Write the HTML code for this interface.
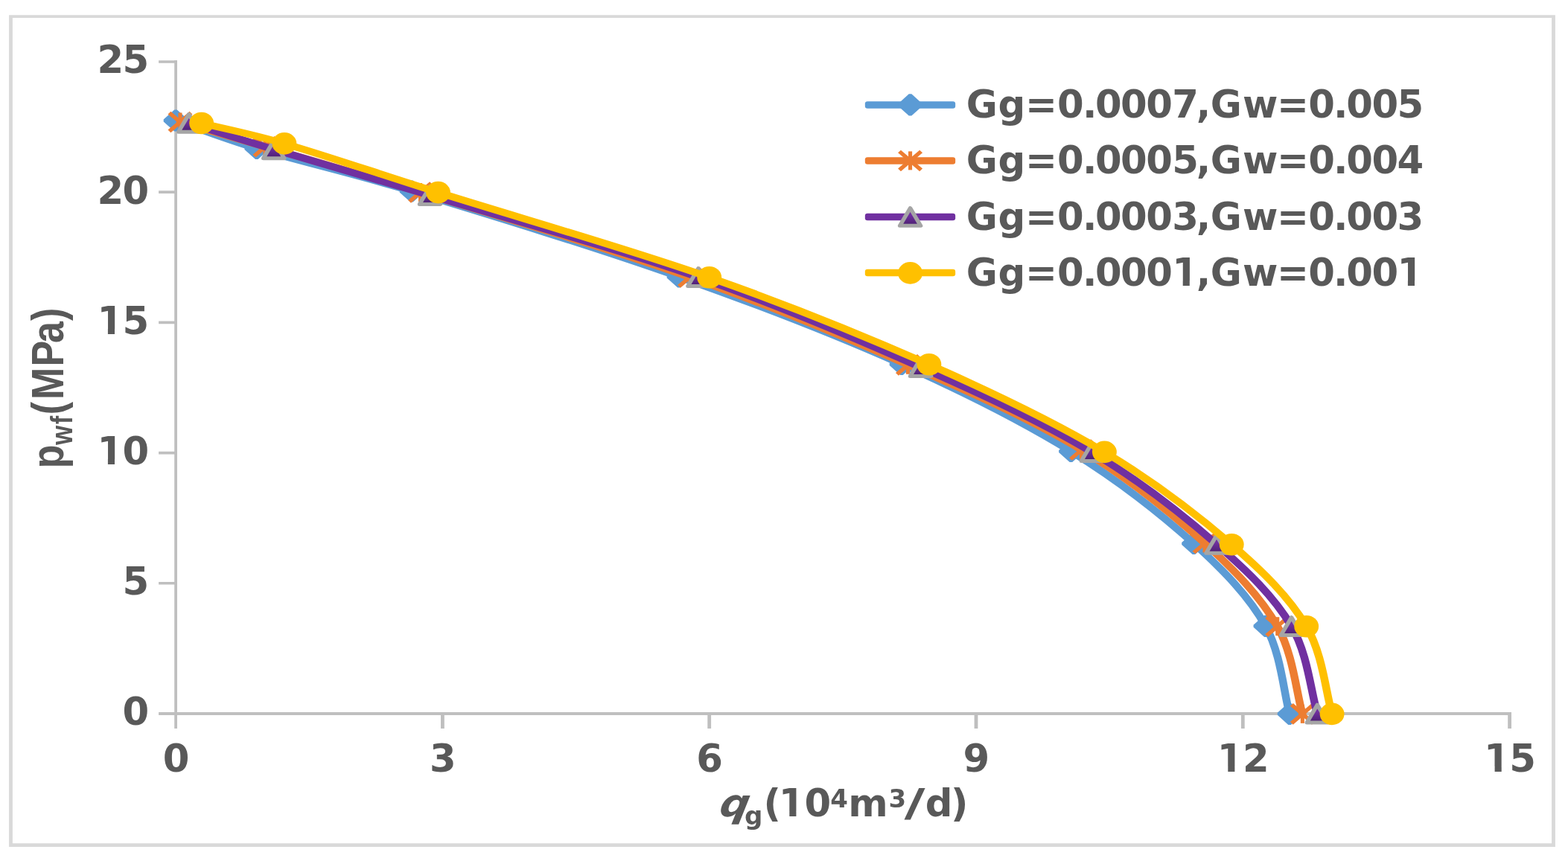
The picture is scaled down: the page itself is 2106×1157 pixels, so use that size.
<!DOCTYPE html>
<html lang="en">
<head>
<meta charset="utf-8">
<title>IPR curves</title>
<style>
html,body{margin:0;padding:0;background:#fff;}
body{width:2106px;height:1157px;overflow:hidden;}
svg{display:block;}
text{fill:#595959;font-weight:bold;font-family:"DejaVu Sans","Liberation Sans",sans-serif;}
.a{font-family:"Liberation Sans","DejaVu Sans",sans-serif;}
.i{font-style:italic;}
</style>
</head>
<body>
<svg width="2106" height="1157" viewBox="0 0 2106 1157">
<defs>
<linearGradient id="pg" gradientUnits="objectBoundingBox" x1="0" y1="0" x2="0" y2="1">
<stop offset="0" stop-color="#7030A0"/><stop offset="0.4" stop-color="#7030A0"/><stop offset="1" stop-color="#4A1F6E"/>
</linearGradient>
</defs>
<rect x="0" y="0" width="2106" height="1157" fill="#ffffff"/>
<path fill-rule="evenodd" fill="#D9D9D9" d="M12.1 20.3H2088.9V1137.9H12.1ZM16.9 23.9H2084.1V1133.2H16.9Z"/>
<path d="M234.2 81.1H238.0V978.9H234.2ZM213.1 956.9H2030.0V960.9H213.1ZM213.1 781.9H236.1V785.6H213.1ZM592.0 958.9H596.8V978.9H592.0ZM213.1 606.7H236.1V610.4H213.1ZM950.3 958.9H955.1V978.9H950.3ZM213.1 431.5H236.1V435.2H213.1ZM1308.6 958.9H1313.4V978.9H1308.6ZM213.1 256.3H236.1V260.0H213.1ZM1666.9 958.9H1671.7V978.9H1666.9ZM213.1 81.2H236.1V84.8H213.1ZM2025.2 958.9H2030.0V978.9H2025.2Z" fill="#BFBFBF"/>
<text class="t" font-size="51.3" y="974.3" x="164.6">0</text>
<text class="t" font-size="51.3" y="799.1" x="164.6">5</text>
<clipPath id="k1"><path clip-rule="evenodd" d="M0 0H2106V1157H0ZM135.5 617.0H144.9V624.9H135.5ZM154.0 617.0H163.2V624.9H154.0Z"/></clipPath><g clip-path="url(#k1)"><text class="t" font-size="51.3" y="623.9" x="130.4 164.6">10</text></g>
<clipPath id="k2"><path clip-rule="evenodd" d="M0 0H2106V1157H0ZM135.5 441.8H144.9V449.8H135.5ZM154.0 441.8H163.2V449.8H154.0Z"/></clipPath><g clip-path="url(#k2)"><text class="t" font-size="51.3" y="448.8" x="130.4 164.6">15</text></g>
<text class="t" font-size="51.3" y="273.6" x="130.4 164.6">20</text>
<text class="t" font-size="51.3" y="98.4" x="130.4 164.6">25</text>
<text class="t" font-size="51.3" y="1037.0" x="218.7">0</text>
<text class="t" font-size="51.3" y="1037.0" x="577.0">3</text>
<text class="t" font-size="51.3" y="1037.0" x="935.3">6</text>
<text class="t" font-size="51.3" y="1037.0" x="1293.6">9</text>
<clipPath id="k3"><path clip-rule="evenodd" d="M0 0H2106V1157H0ZM1639.9 1030.1H1649.3V1038.0H1639.9ZM1658.4 1030.1H1667.6V1038.0H1658.4Z"/></clipPath><g clip-path="url(#k3)"><text class="t" font-size="51.3" y="1037.0" x="1634.8 1669.0">12</text></g>
<clipPath id="k4"><path clip-rule="evenodd" d="M0 0H2106V1157H0ZM1998.2 1030.1H2007.6V1038.0H1998.2ZM2016.7 1030.1H2025.9V1038.0H2016.7Z"/></clipPath><g clip-path="url(#k4)"><text class="t" font-size="51.3" y="1037.0" x="1993.1 2027.3">15</text></g>
<g transform="scale(1.11 1)">
<path d="M212.6 162.0C237.1 171.4 270.2 186.1 310.6 199.5C365.5 217.7 424.6 232.2 498.2 257.0C595.0 289.7 719.0 331.7 821.6 372.0C916.6 409.3 1007.6 448.2 1091.0 489.5C1165.8 526.5 1233.9 564.3 1295.9 606.5C1352.0 644.8 1402.1 688.1 1444.6 730.5C1480.8 766.6 1511.1 801.3 1531.4 841.3C1550.1 878.4 1553.1 929.8 1560.4 959.3" fill="none" stroke="#5B9BD5" stroke-width="9.5" stroke-linecap="round" stroke-linejoin="round"/>
<path d="M211.0 147.4L214.2 147.4L227.3 160.5L227.3 163.5L214.2 176.6L211.0 176.6L197.9 163.5L197.9 160.5Z" fill="#5B9BD5"/>
<path d="M309.0 184.9L312.2 184.9L325.3 198.0L325.3 201.0L312.2 214.1L309.0 214.1L295.9 201.0L295.9 198.0Z" fill="#5B9BD5"/>
<path d="M496.6 242.4L499.8 242.4L512.9 255.5L512.9 258.5L499.8 271.6L496.6 271.6L483.5 258.5L483.5 255.5Z" fill="#5B9BD5"/>
<path d="M820.0 357.4L823.2 357.4L836.3 370.5L836.3 373.5L823.2 386.6L820.0 386.6L806.9 373.5L806.9 370.5Z" fill="#5B9BD5"/>
<path d="M1089.4 474.9L1092.6 474.9L1105.7 488.0L1105.7 491.0L1092.6 504.1L1089.4 504.1L1076.3 491.0L1076.3 488.0Z" fill="#5B9BD5"/>
<path d="M1294.3 591.9L1297.5 591.9L1310.6 605.0L1310.6 608.0L1297.5 621.1L1294.3 621.1L1281.2 608.0L1281.2 605.0Z" fill="#5B9BD5"/>
<path d="M1443.0 715.9L1446.2 715.9L1459.3 729.0L1459.3 732.0L1446.2 745.1L1443.0 745.1L1429.9 732.0L1429.9 729.0Z" fill="#5B9BD5"/>
<path d="M1529.8 826.7L1533.0 826.7L1546.1 839.8L1546.1 842.8L1533.0 855.9L1529.8 855.9L1516.7 842.8L1516.7 839.8Z" fill="#5B9BD5"/>
<path d="M1558.8 944.7L1562.0 944.7L1575.1 957.8L1575.1 960.8L1562.0 973.9L1558.8 973.9L1545.7 960.8L1545.7 957.8Z" fill="#5B9BD5"/>
</g>
<g transform="scale(1.11 1)">
<path d="M218.0 164.0C243.7 172.3 279.4 183.8 320.7 197.2C376.2 215.3 434.6 233.3 508.6 258.5C605.9 291.7 731.9 332.1 834.7 372.5C928.7 409.4 1015.9 449.8 1098.6 490.3C1173.9 527.1 1245.5 562.4 1308.6 604.5C1365.5 642.5 1414.9 687.3 1457.7 730.0C1494.2 766.5 1524.9 801.5 1545.7 841.7C1564.8 878.8 1568.4 930.0 1576.0 959.4" fill="none" stroke="#ED7D31" stroke-width="9.5" stroke-linecap="round" stroke-linejoin="round"/>
<path d="M204.9 151.6L231.1 176.4M204.9 176.4L231.1 151.6" fill="none" stroke="#ED7D31" stroke-width="5.1"/><path d="M218.0 151.5L218.0 176.5" fill="none" stroke="#ED7D31" stroke-width="4.6"/>
<path d="M307.6 184.8L333.8 209.6M307.6 209.6L333.8 184.8" fill="none" stroke="#ED7D31" stroke-width="5.1"/><path d="M320.7 184.7L320.7 209.7" fill="none" stroke="#ED7D31" stroke-width="4.6"/>
<path d="M495.5 246.1L521.7 270.9M495.5 270.9L521.7 246.1" fill="none" stroke="#ED7D31" stroke-width="5.1"/><path d="M508.6 246.0L508.6 271.0" fill="none" stroke="#ED7D31" stroke-width="4.6"/>
<path d="M821.6 360.1L847.8 384.9M821.6 384.9L847.8 360.1" fill="none" stroke="#ED7D31" stroke-width="5.1"/><path d="M834.7 360.0L834.7 385.0" fill="none" stroke="#ED7D31" stroke-width="4.6"/>
<path d="M1085.5 477.9L1111.7 502.8M1085.5 502.8L1111.7 477.9" fill="none" stroke="#ED7D31" stroke-width="5.1"/><path d="M1098.6 477.8L1098.6 502.8" fill="none" stroke="#ED7D31" stroke-width="4.6"/>
<path d="M1295.5 592.0L1321.7 617.0M1295.5 617.0L1321.7 592.0" fill="none" stroke="#ED7D31" stroke-width="5.1"/><path d="M1308.6 592.0L1308.6 617.0" fill="none" stroke="#ED7D31" stroke-width="4.6"/>
<path d="M1444.6 717.5L1470.8 742.5M1444.6 742.5L1470.8 717.5" fill="none" stroke="#ED7D31" stroke-width="5.1"/><path d="M1457.7 717.5L1457.7 742.5" fill="none" stroke="#ED7D31" stroke-width="4.6"/>
<path d="M1532.6 829.2L1558.8 854.2M1532.6 854.2L1558.8 829.2" fill="none" stroke="#ED7D31" stroke-width="5.1"/><path d="M1545.7 829.2L1545.7 854.2" fill="none" stroke="#ED7D31" stroke-width="4.6"/>
<path d="M1562.9 946.9L1589.1 971.9M1562.9 971.9L1589.1 946.9" fill="none" stroke="#ED7D31" stroke-width="5.1"/><path d="M1576.0 946.9L1576.0 971.9" fill="none" stroke="#ED7D31" stroke-width="4.6"/>
</g>
<g transform="scale(1.11 1)">
<path d="M228.6 165.3C254.3 174.2 289.8 187.0 331.3 200.8C387.0 219.4 446.0 237.7 520.3 262.5C617.3 294.9 742.3 332.5 845.0 372.5C940.3 409.6 1030.2 452.2 1114.0 493.5C1189.0 530.5 1258.4 565.9 1321.1 607.5C1378.0 645.3 1428.6 689.2 1472.1 731.3C1509.3 767.3 1541.3 801.6 1562.7 841.5C1582.4 878.3 1586.1 929.6 1594.0 959.0" fill="none" stroke="#7030A0" stroke-width="9.5" stroke-linecap="round" stroke-linejoin="round"/>
<path d="M228.6 153.5L241.2 177.2L216.0 177.2Z" fill="url(#pg)" stroke="#A5A5A5" stroke-width="5" stroke-linejoin="round"/>
<path d="M331.3 189.0L343.9 212.7L318.7 212.7Z" fill="url(#pg)" stroke="#A5A5A5" stroke-width="5" stroke-linejoin="round"/>
<path d="M520.3 250.7L532.9 274.4L507.7 274.4Z" fill="url(#pg)" stroke="#A5A5A5" stroke-width="5" stroke-linejoin="round"/>
<path d="M845.0 360.7L857.6 384.4L832.4 384.4Z" fill="url(#pg)" stroke="#A5A5A5" stroke-width="5" stroke-linejoin="round"/>
<path d="M1114.0 481.7L1126.6 505.4L1101.4 505.4Z" fill="url(#pg)" stroke="#A5A5A5" stroke-width="5" stroke-linejoin="round"/>
<path d="M1321.1 595.7L1333.7 619.4L1308.5 619.4Z" fill="url(#pg)" stroke="#A5A5A5" stroke-width="5" stroke-linejoin="round"/>
<path d="M1472.1 719.5L1484.7 743.2L1459.5 743.2Z" fill="url(#pg)" stroke="#A5A5A5" stroke-width="5" stroke-linejoin="round"/>
<path d="M1562.7 829.7L1575.3 853.4L1550.1 853.4Z" fill="url(#pg)" stroke="#A5A5A5" stroke-width="5" stroke-linejoin="round"/>
<path d="M1594.0 947.2L1606.6 970.9L1581.4 970.9Z" fill="url(#pg)" stroke="#A5A5A5" stroke-width="5" stroke-linejoin="round"/>
</g>
<g transform="scale(1.11 1)">
<path d="M243.8 165.5C268.9 172.3 303.7 179.8 344.1 192.9C399.2 210.8 456.3 232.8 530.2 258.6C627.7 292.7 754.8 332.4 858.3 372.7C952.9 409.5 1040.9 448.9 1124.2 489.8C1200.4 527.2 1272.2 565.0 1336.4 607.4C1394.4 645.7 1446.1 689.4 1490.3 731.7C1527.8 767.7 1559.5 801.8 1580.8 841.7C1600.5 878.6 1604.1 930.0 1611.8 959.4" fill="none" stroke="#FFC000" stroke-width="9.5" stroke-linecap="round" stroke-linejoin="round"/>
<circle cx="243.8" cy="165.5" r="14.8" fill="#FFC000"/>
<circle cx="344.1" cy="192.9" r="14.8" fill="#FFC000"/>
<circle cx="530.2" cy="258.6" r="14.8" fill="#FFC000"/>
<circle cx="858.3" cy="372.7" r="14.8" fill="#FFC000"/>
<circle cx="1124.2" cy="489.8" r="14.8" fill="#FFC000"/>
<circle cx="1336.4" cy="607.4" r="14.8" fill="#FFC000"/>
<circle cx="1490.3" cy="731.7" r="14.8" fill="#FFC000"/>
<circle cx="1580.8" cy="841.7" r="14.8" fill="#FFC000"/>
<circle cx="1611.8" cy="959.4" r="14.8" fill="#FFC000"/>
</g>
<g transform="scale(1.11 1)">
<rect x="1046.7" y="136.15" width="109.3" height="9.5" rx="3" fill="#5B9BD5"/>
<path d="M1099.8 126.3L1103.0 126.3L1116.1 139.4L1116.1 142.4L1103.0 155.5L1099.8 155.5L1086.7 142.4L1086.7 139.4Z" fill="#5B9BD5"/>
</g>
<text class="t" font-size="51.3" y="158.3" x="1297.7 1340.4 1377.0 1420.0 1453.9 1470.9 1505.1 1539.3 1574.2 1606.7 1625.8 1669.0 1715.1 1757.3 1790.9 1808.2 1842.4 1876.4">Gg=0.0007,Gw=0.005</text>
<g transform="scale(1.11 1)">
<rect x="1046.7" y="211.20" width="109.3" height="9.5" rx="3" fill="#ED7D31"/>
<path d="M1088.3 203.5L1114.5 228.4M1088.3 228.4L1114.5 203.5" fill="none" stroke="#ED7D31" stroke-width="5.1"/><path d="M1101.4 203.4L1101.4 228.4" fill="none" stroke="#ED7D31" stroke-width="4.6"/>
</g>
<text class="t" font-size="51.3" y="233.3" x="1297.7 1340.4 1377.0 1420.0 1453.9 1470.9 1505.1 1539.3 1574.2 1606.7 1625.8 1669.0 1715.1 1757.3 1790.9 1808.2 1842.4 1876.4">Gg=0.0005,Gw=0.004</text>
<g transform="scale(1.11 1)">
<rect x="1046.7" y="286.70" width="109.3" height="9.5" rx="3" fill="#7030A0"/>
<path d="M1101.4 279.6L1114.0 303.3L1088.8 303.3Z" fill="url(#pg)" stroke="#A5A5A5" stroke-width="5" stroke-linejoin="round"/>
</g>
<text class="t" font-size="51.3" y="308.8" x="1297.7 1340.4 1377.0 1420.0 1453.9 1470.9 1505.1 1539.3 1574.2 1606.7 1625.8 1669.0 1715.1 1757.3 1790.9 1808.2 1842.4 1876.4">Gg=0.0003,Gw=0.003</text>
<g transform="scale(1.11 1)">
<rect x="1046.7" y="361.75" width="109.3" height="9.5" rx="3" fill="#FFC000"/>
<circle cx="1101.4" cy="366.9" r="14.8" fill="#FFC000"/>
</g>
<clipPath id="k5"><path clip-rule="evenodd" d="M0 0H2106V1157H0ZM1579.3 377.0H1588.7V384.9H1579.3ZM1597.8 377.0H1607.0V384.9H1597.8ZM1881.5 377.0H1890.9V384.9H1881.5ZM1900.0 377.0H1909.2V384.9H1900.0Z"/></clipPath><g clip-path="url(#k5)"><text class="t" font-size="51.3" y="383.9" x="1297.7 1340.4 1377.0 1420.0 1453.9 1470.9 1505.1 1539.3 1574.2 1606.7 1625.8 1669.0 1715.1 1757.3 1790.9 1808.2 1842.4 1876.4">Gg=0.0001,Gw=0.001</text></g>
<g id="xtitle">
<text class="i" font-size="51.3" transform="translate(964.5 1097.0) scale(1.08 1) skewX(-10)" x="0" y="0">q</text>
<text class="t" font-size="34.0" y="1107.6" x="1000.0">g</text>
<clipPath id="k6"><path clip-rule="evenodd" d="M0 0H2106V1157H0ZM1050.9 1090.1H1060.3V1098.0H1050.9ZM1069.4 1090.1H1078.6V1098.0H1069.4Z"/></clipPath><g clip-path="url(#k6)"><text class="t" font-size="51.3" y="1097.0" x="1025.6 1045.8 1080.6">(10</text></g>
<text class="t" font-size="34.0" y="1084.8" x="1115.2">4</text>
<text class="t" font-size="51.3" y="1097.0" x="1139.2">m</text>
<text class="t" font-size="34.0" y="1084.8" x="1193.4">3</text>
<text class="t" font-size="51.3" y="1097.0" x="809.7" transform="scale(1.5 1)">/</text>
<text class="t" font-size="51.3" y="1097.0" x="1242.7 1277.0">d)</text>
</g>
<g transform="translate(85.2 626) rotate(-90) scale(1 1.19)">
<text class="a" font-size="52.0" y="0.0" x="-3.6">p</text>
<text class="a" font-size="33.5" y="10.3" x="28.0 56.0">wf</text>
<text class="a" font-size="52.0" y="0.0" x="68.8 89.0 133.5 165.0 194.9">(MPa)</text>
</g>
</svg>
</body>
</html>
